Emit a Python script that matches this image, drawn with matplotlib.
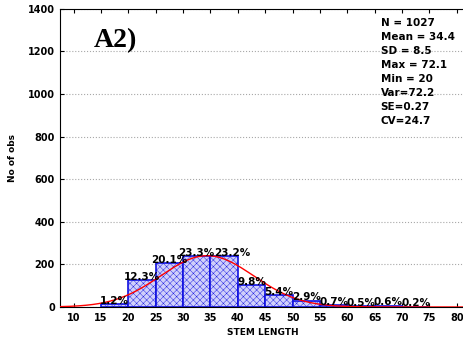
import numpy as np
import matplotlib
matplotlib.use('Agg')
import matplotlib.pyplot as plt

# bins of stem length and counts (N = 1027)
bin_left = [15, 20, 25, 30, 35, 40, 45, 50, 55, 60, 65, 70]
counts = [12, 126, 206, 239, 238, 101, 55, 30, 7, 5, 6, 2]
pct_labels = ['1.2%', '12.3%', '20.1%', '23.3%', '23.2%', '9.8%', '5.4%', '2.9%',
              '0.7%', '0.5%', '0.6%', '0.2%']
stats_lines = ['N = 1027', 'Mean = 34.4', 'SD = 8.5', 'Max = 72.1', 'Min = 20',
               'Var=72.2', 'SE=0.27', 'CV=24.7']
n_obs = 1027
mean = 34.4
sd = 8.5
bin_w = 5

plt.rcParams['hatch.color'] = '#a4a4f4'
plt.rcParams['hatch.linewidth'] = 0.3

fig = plt.figure(figsize=(4.64, 3.43), dpi=100)
ax = fig.add_axes([0.129, 0.105, 0.875, 0.869])

ax.bar(bin_left, counts, width=bin_w, align='edge', facecolor='#d0d0fa',
       edgecolor='#1010e0', linewidth=1.2, hatch='xxxxx', zorder=2)

# fitted normal curve
xs = np.linspace(7.5, 82, 300)
ys = n_obs * bin_w / (sd * np.sqrt(2 * np.pi)) * np.exp(-0.5 * ((xs - mean) / sd) ** 2)
ax.plot(xs, ys, color='red', lw=1.0, zorder=3)

for x, c, lab in zip(bin_left, counts, pct_labels):
    xc = x + bin_w / 2
    if lab == '23.2%':
        xc += 1.5  # moved right in the original to clear its neighbour
    ax.text(xc, c + 1, lab, ha='center', va='baseline',
            fontsize=7.5, fontweight='bold', zorder=4)

ax.set_xlim(7.5, 81.65)
ax.set_ylim(0, 1400)
ax.set_xticks(range(10, 85, 5))
ax.set_yticks(range(0, 1401, 200))
ax.tick_params(axis='both', labelsize=7, direction='in', length=3)
for lab in ax.get_xticklabels() + ax.get_yticklabels():
    lab.set_fontweight('bold')
ax.tick_params(axis='x', top=True, pad=4)
ax.yaxis.grid(True, linestyle=':', color='#a8a8a8', lw=0.8)
ax.set_axisbelow(True)
ax.spines['right'].set_visible(False)

ax.set_xlabel('STEM LENGTH', fontsize=6.5, fontweight='bold', labelpad=4)
ax.set_ylabel('No of obs', fontsize=6.5, fontweight='bold', labelpad=8)

ax.text(0.084, 0.935, 'A2)', transform=ax.transAxes, fontsize=20, fontweight='bold',
        family='Liberation Serif', va='top')
ax.text(0.79, 0.968, '\n'.join(stats_lines), transform=ax.transAxes, fontsize=7.5,
        fontweight='bold', va='top', linespacing=1.5)

fig.savefig('out.png', dpi=100)
